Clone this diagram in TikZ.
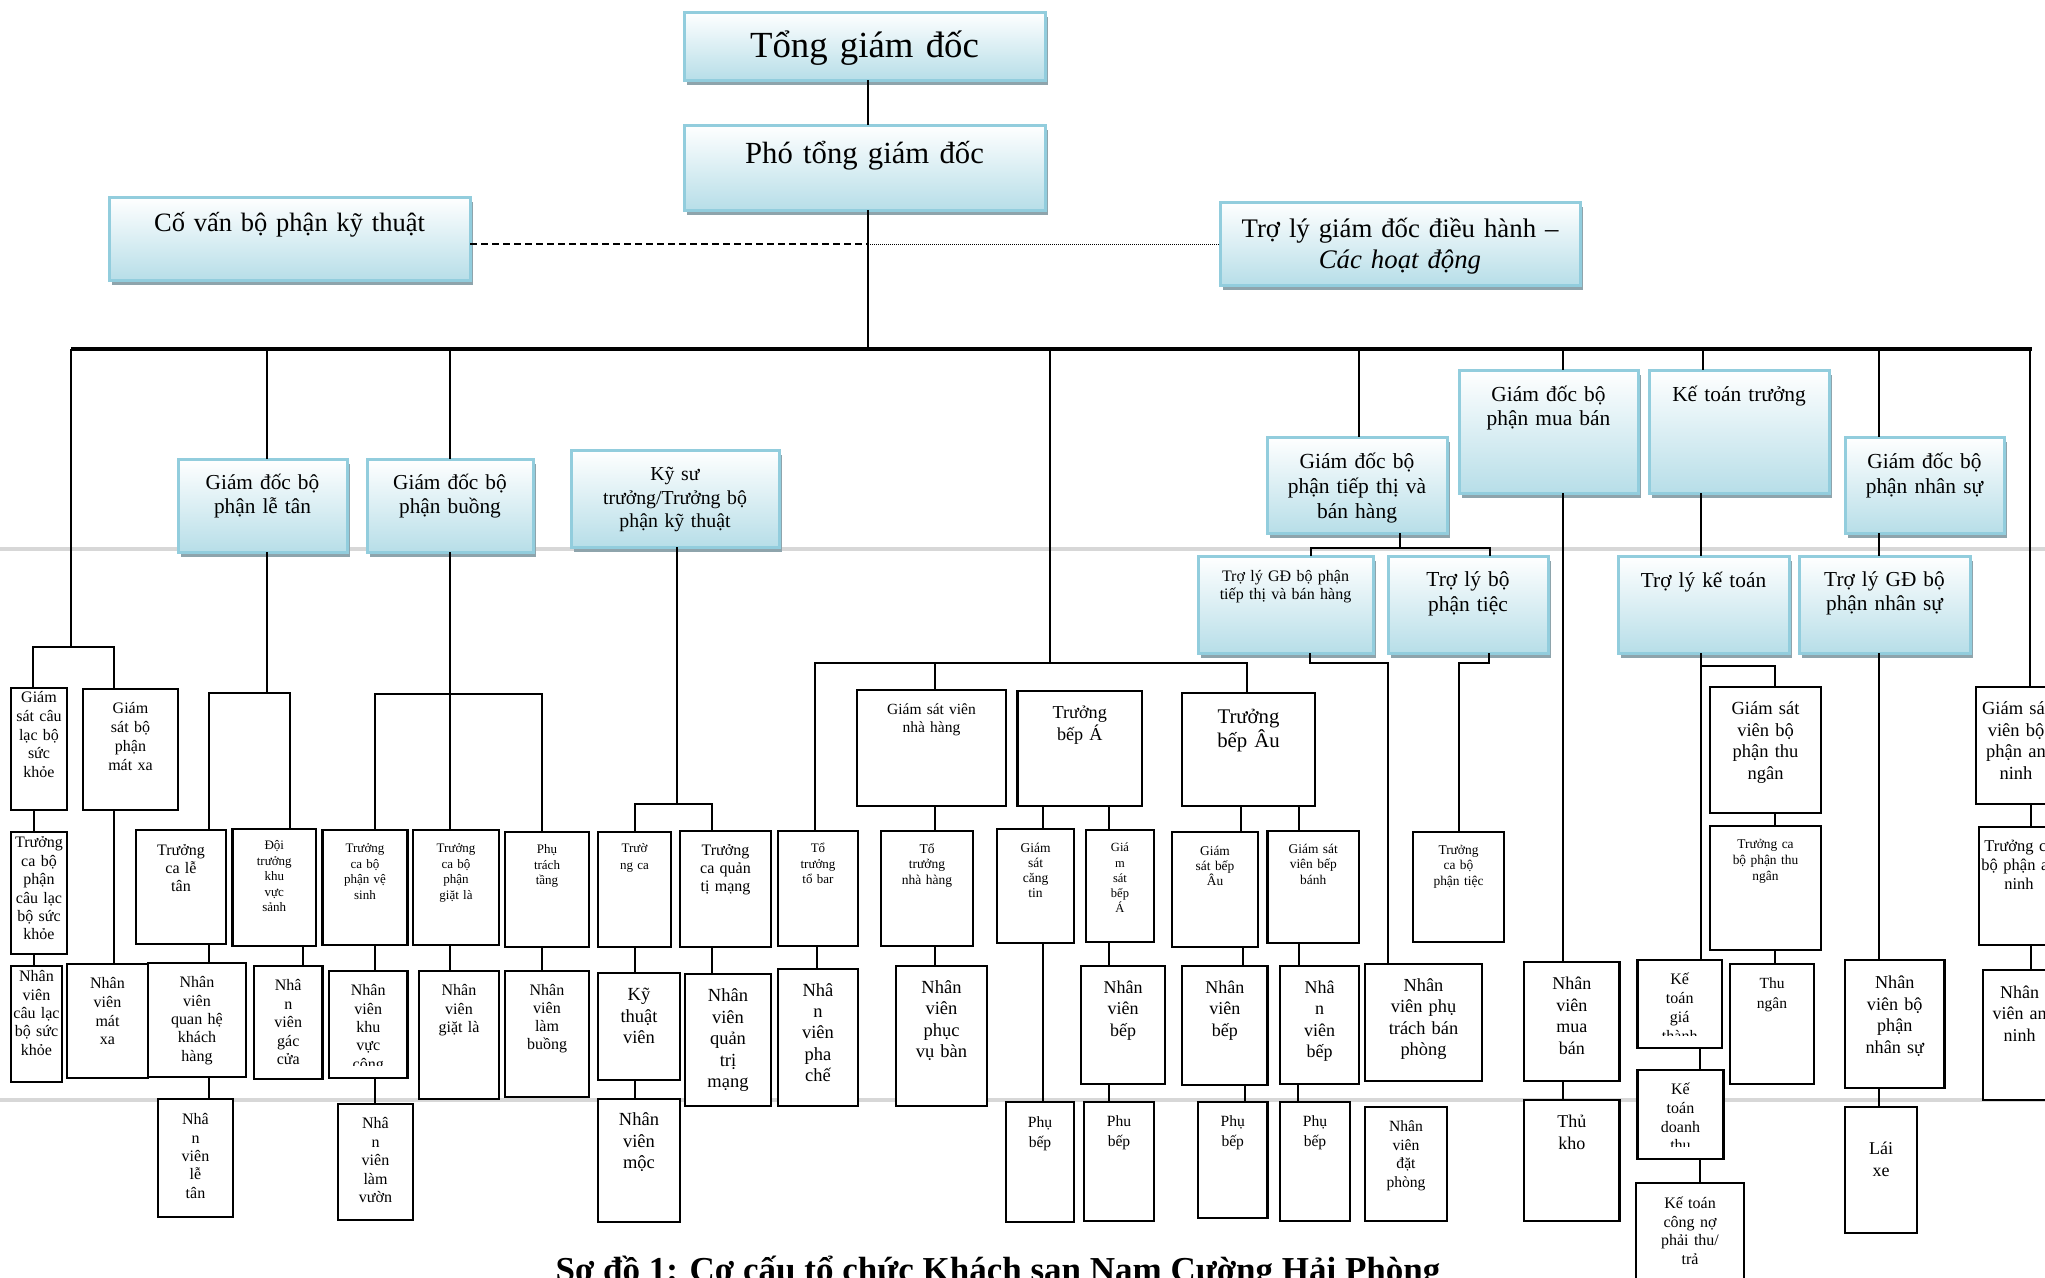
\documentclass[tikz,border=0pt]{standalone}
\usepackage{fontspec}
\setmainfont{Liberation Serif}
\definecolor{bborder}{RGB}{146,205,221}
\definecolor{bfill}{RGB}{183,222,232}
\definecolor{shadowc}{RGB}{142,164,172}
\definecolor{sepgray}{RGB}{215,215,215}
\tikzset{
 wbox/.style={draw=black, line width=2.2pt, fill=white, inner sep=0pt, outer sep=0pt},
 bbox/.style={draw=bborder, line width=3pt, top color=white, bottom color=bfill, inner sep=0pt, outer sep=0pt},
 btxt/.style={anchor=base, align=center, inner sep=0pt},
 conn/.style={draw=black, line width=1.8pt},
 busline/.style={draw=black, line width=4pt},
 sepline/.style={draw=sepgray, line width=4pt},
 advline/.style={draw=black, line width=2pt, dash pattern=on 7pt off 4pt},
 assline/.style={draw=black, line width=1pt, dash pattern=on 1pt off 1pt},
}
% name, x1, y1, x2, y2, font size, skip, first line centre, text
\newcommand\mkwbox[9]{%
 \node[wbox, minimum width={#4-#2}, minimum height={#5-#3}] (#1) at ({(#2+#4)/2},{(#3+#5)/2}) {};
 \node[btxt, text width={#4-#2+24}, font={\fontsize{#6}{#7}\selectfont}] (#1t) at ({(#2+#4)/2},{#8+0.3*#6}) {#9};}
\newcommand\mkwboxc[9]{%
 \node[wbox, minimum width={#4-#2}, minimum height={#5-#3}] (#1) at ({(#2+#4)/2},{(#3+#5)/2}) {};
 \begin{scope}
 \clip (#2,#3) rectangle (#4,{#5-13});
 \node[btxt, text width={#4-#2+24}, font={\fontsize{#6}{#7}\selectfont}] (#1t) at ({(#2+#4)/2},{#8+0.3*#6}) {#9};
 \end{scope}}
\newcommand\mkbbox[9]{%
 \fill[shadowc] ({#2+3},{#3+5}) rectangle ({#4+3},{#5+5});
 \node[bbox, minimum width={#4-#2}, minimum height={#5-#3}] (#1) at ({(#2+#4)/2},{(#3+#5)/2}) {};
 \node[btxt, text width={#4-#2+24}, font={\fontsize{#6}{#7}\selectfont}] (#1t) at ({(#2+#4)/2},{#8+0.3*#6}) {#9};}
\begin{document}
\begin{tikzpicture}[x=1pt,y=-1pt]
\useasboundingbox (0,0) rectangle (2045,1277);
\clip (0,0) rectangle (2045,1277);
\fill[white] (0,0) rectangle (2045,1277);
\draw[sepline] (0,549) -- (2045,549);
\draw[sepline] (0,1100) -- (2045,1100);

% ---------- blue boxes
\mkbbox{tgd}{684}{12}{1045}{80}{36.8}{40}{46}{Tổng giám đốc}
\mkbbox{ptgd}{684}{125}{1045}{210}{30.7}{35}{154}{Phó tổng giám đốc}
\mkbbox{cv}{109}{197}{470}{280}{26.5}{31}{224}{Cố vấn bộ phận kỹ thuật}
\mkbbox{tl}{1220}{202}{1580}{285}{26.8}{31}{229}{Trợ lý giám đốc điều hành –\\\textit{Các hoạt động}}
\mkbbox{letan}{178}{459}{347}{552}{21.3}{24}{483}{Giám đốc bộ\\phận lễ tân}
\mkbbox{buong}{367}{459}{533}{552}{21.3}{24}{483}{Giám đốc bộ\\phận buồng}
\mkbbox{kysu}{571}{450}{779}{547}{19.8}{23.5}{475}{Kỹ sư\\trưởng/Trưởng bộ\\phận kỹ thuật}
\mkbbox{tiepthi}{1267}{437}{1447}{533}{21.5}{25}{462}{Giám đốc bộ\\phận tiếp thị và\\bán hàng}
\mkbbox{muaban}{1459}{370}{1638}{493}{21.4}{24}{395}{Giám đốc bộ\\phận mua bán}
\mkbbox{ketoan}{1649}{370}{1829}{493}{21.4}{24}{395}{Kế toán trưởng}
\mkbbox{nhansu}{1845}{437}{2004}{533}{21.4}{25}{462}{Giám đốc bộ\\phận nhân sự}
\mkbbox{tlgdtt}{1198}{556}{1373}{653}{16}{18}{577}{Trợ lý GĐ bộ phận\\tiếp thị và bán hàng}
\mkbbox{tltiec}{1388}{556}{1548}{653}{21.4}{25}{580}{Trợ lý bộ\\phận tiệc}
\mkbbox{tlkt}{1618}{556}{1789}{653}{21.3}{24}{581}{Trợ lý kế toán}
\mkbbox{tlns}{1799}{556}{1970}{653}{21.3}{24}{580}{Trợ lý GĐ bộ\\phận nhân sự}

% ---------- white boxes: health club / massage
\mkwbox{gsclb}{11}{688}{67}{810}{16}{18.7}{698}{Giám\\sát câu\\lạc bộ\\sức\\khỏe}
\mkwbox{gsmx}{83}{689}{178}{810}{16}{19}{709}{Giám\\sát bộ\\phận\\mát xa}
\mkwbox{tcclb}{11}{832}{67}{954}{16}{18.4}{843}{Trưởng\\ca bộ\\phận\\câu lạc\\bộ sức\\khỏe}
\mkwbox{nvclb}{11}{966}{62}{1082}{16}{18.3}{977}{Nhân\\viên\\câu lạc\\bộ sức\\khỏe}
\mkwbox{nvmx}{67}{964}{148}{1078}{16}{18.7}{984}{Nhân\\viên\\mát\\xa}
% front office
\mkwbox{tclt}{136}{830}{226}{944}{16}{18}{851}{Trưởng\\ca lễ\\tân}
\mkwbox{dtks}{232.5}{829}{316}{946}{13}{15.5}{846}{Đội\\trưởng\\khu\\vực\\sảnh}
\mkwbox{nvqh}{148}{963}{246}{1077}{16}{18.3}{983}{Nhân\\viên\\quan hệ\\khách\\hàng}
\mkwbox{nvgc}{254}{966}{322.5}{1079}{16}{18.5}{986}{Nhâ\\n\\viên\\gác\\cửa}
\mkwbox{nvlt}{158}{1099}{233}{1217}{16}{18.3}{1120}{Nhâ\\n\\viên\\lễ\\tân}
% housekeeping
\mkwbox{tcvs}{322.5}{830}{407.5}{945}{13}{15.4}{849}{Trưởng\\ca bộ\\phận vệ\\sinh}
\mkwbox{tcgl}{413}{830}{499}{945}{13}{15.4}{849}{Trưởng\\ca bộ\\phận\\giặt là}
\mkwbox{ptt}{505}{832}{589}{947}{13}{15.5}{850}{Phụ\\trách\\tầng}
\mkwboxc{nvkvc}{329}{971}{407.5}{1078}{16}{18.3}{991}{Nhân\\viên\\khu\\vực\\công}
\mkwbox{nvgl}{419}{971}{499}{1099}{16}{18.5}{991}{Nhân\\viên\\giặt là}
\mkwbox{nvlb}{505}{971}{589}{1097}{16}{18}{991}{Nhân\\viên\\làm\\buồng}
\mkwbox{nvlv}{338}{1104}{413}{1220}{16}{18.5}{1124}{Nhâ\\n\\viên\\làm\\vườn}
% engineering
\mkwbox{tcktv}{598}{832}{671}{947}{13}{16.7}{849}{Trườ\\ng ca}
\mkwbox{tcqtm}{680}{831}{771}{947}{16}{18}{851}{Trưởng\\ca quản\\tị mạng}
\mkwbox{ktv}{598}{973}{680}{1080}{18.5}{21.5}{995}{Kỹ\\thuật\\viên}
\mkwbox{nvqtm}{685}{974}{771}{1106}{18.5}{21.5}{996}{Nhân\\viên\\quản\\trị\\mạng}
\mkwbox{nvmoc}{598}{1099}{680}{1222}{18.5}{21.5}{1120}{Nhân\\viên\\mộc}
% food and beverage
\mkwbox{gsnh}{857}{690}{1006}{806}{15.5}{18}{710}{Giám sát viên\\nhà hàng}
\mkwbox{tba}{1017.5}{691}{1142}{806}{18.2}{22}{713}{Trưởng\\bếp Á}
\mkwbox{tbau}{1182}{693}{1315}{806}{20.8}{24}{717}{Trưởng\\bếp Âu}
\mkwbox{tttb}{778}{831}{858}{946}{13}{15.5}{849}{Tổ\\trưởng\\tổ bar}
\mkwbox{ttnh}{881}{831}{973}{946}{13.5}{15.5}{849}{Tổ\\trưởng\\nhà hàng}
\mkwbox{nvpc}{778}{969}{858}{1106}{18.5}{21.2}{991}{Nhâ\\n\\viên\\pha\\chế}
\mkwbox{nvpvb}{896}{966}{987}{1106}{18.5}{21.3}{988}{Nhân\\viên\\phục\\vụ bàn}
\mkwbox{gsct}{997}{829}{1074}{943}{13.5}{15}{848}{Giám\\sát\\căng\\tin}
\mkwbox{gsba}{1086}{830}{1154}{942}{12.5}{15.3}{848}{Giá\\m\\sát\\bếp\\Á}
\mkwbox{gsbau}{1172}{832}{1258}{947}{13.4}{15}{851}{Giám\\sát bếp\\Âu}
\mkwbox{gsbb}{1267.5}{831}{1359}{943}{13.4}{15.5}{849}{Giám sát\\viên bếp\\bánh}
\mkwbox{pb1}{1006}{1102}{1074}{1222}{15.6}{19.5}{1123}{Phụ\\bếp}
\mkwbox{nvba}{1081}{966}{1165}{1084}{18}{21.3}{988}{Nhân\\viên\\bếp}
\mkwbox{pb2}{1084}{1102}{1154}{1221}{15.6}{19.5}{1122}{Phu\\bếp}
\mkwbox{nvbau}{1182}{966}{1267.5}{1085}{18}{21.3}{988}{Nhân\\viên\\bếp}
\mkwbox{nvbb}{1280}{966}{1359}{1084}{18}{21.3}{988}{Nhâ\\n\\viên\\bếp}
\mkwbox{pb3}{1198}{1102}{1267.5}{1218}{15.6}{19.5}{1122}{Phụ\\bếp}
\mkwbox{pb4}{1280}{1102}{1350}{1221}{15.6}{19.5}{1122}{Phụ\\bếp}
% sales
\mkwbox{nvpbp}{1365}{964}{1482}{1081}{18.4}{21.3}{986}{Nhân\\viên phụ\\trách bán\\phòng}
\mkwbox{nvdp}{1365}{1107}{1447}{1221}{15.6}{18.5}{1127}{Nhân\\viên\\đặt\\phòng}
\mkwbox{tctiec}{1413}{832}{1504}{942}{13.4}{15.5}{850}{Trưởng\\ca bộ\\phận tiệc}
% purchasing
\mkwbox{nvmb}{1524}{962}{1619.5}{1081}{18}{21.6}{984}{Nhân\\viên\\mua\\bán}
\mkwbox{thukho}{1524}{1100}{1619.5}{1221}{18}{22}{1122}{Thủ\\kho}
% accounting
\mkwbox{gstn}{1710}{687}{1821}{813}{18.5}{21.6}{709}{Giám sát\\viên bộ\\phận thu\\ngân}
\mkwbox{tctn}{1710}{826}{1821}{950}{13.4}{16}{844}{Trưởng ca\\bộ phận thu\\ngân}
\mkwbox{thungan}{1730}{964}{1814}{1084}{15.5}{20}{984}{Thu\\ngân}
\mkwboxc{ktgt}{1637.5}{960}{1722}{1048}{16}{19}{980}{Kế\\toán\\giá\\thành}
\mkwboxc{ktdt}{1637.5}{1070}{1723.5}{1159}{16}{18.7}{1090}{Kế\\toán\\doanh\\thu}
\mkwbox{ktcn}{1636}{1183}{1744}{1300}{16}{18.5}{1204}{Kế toán\\công nợ\\phải thu/\\trả}
% HR
\mkwbox{nvns}{1845}{960}{1944.5}{1088}{18.2}{21.6}{983}{Nhân\\viên bộ\\phận\\nhân sự}
\mkwbox{laixe}{1845}{1107}{1917}{1233}{18}{22}{1149}{Lái\\xe}
% security
\mkwbox{gsan}{1976}{687}{2056}{804}{18.5}{21.6}{709}{Giám sát\\viên bộ\\phận an\\ninh}
\mkwbox{tcan}{1979}{827}{2059}{945}{16.5}{18.7}{847}{Trưởng ca\\bộ phận an\\ninh}
\mkwbox{nvan}{1983}{970}{2056}{1100}{18}{21.5}{993}{Nhân\\viên an\\ninh}

% ---------- connectors
\coordinate (busL) at (71,349);
\coordinate (busR) at (2032,349);
\coordinate (mid) at (868,244);
\draw[busline] (busL) -- (busR);
\draw[conn] (tgd.south -| mid) -- (ptgd.north -| mid);
\draw[conn] (ptgd.south -| mid) -- (busL -| mid);
\draw[advline] (cv.east |- mid) -- (mid);
\draw[assline] (mid) -- (tl.west |- mid);

% health club
\coordinate (r1) at (71,647);
\draw[conn] (busL) -- (r1);
\draw[conn] (gsclb.north -| 33,0) |- (r1) -| (gsmx.north -| 114,0);
\draw[conn] (gsclb.south -| 34,0) -- (tcclb.north -| 34,0);
\draw[conn] (tcclb.south -| 34,0) -- (nvclb.north -| 34,0);
\draw[conn] (gsmx.south -| 114,0) -- (nvmx.north -| 114,0);
% front office
\coordinate (r2) at (267,693);
\draw[conn] (busL -| r2) -- (letan.north -| r2);
\draw[conn] (letan.south -| r2) -- (r2);
\draw[conn] (tclt.north -| 209,0) |- (r2) -| (dtks.north -| 290,0);
\draw[conn] (tclt.south -| 209,0) -- (nvqh.north -| 209,0);
\draw[conn] (dtks.south -| 303,0) -- (nvgc.north -| 303,0);
\draw[conn] (nvqh.south -| 209,0) -- (nvlt.north -| 209,0);
% housekeeping
\coordinate (r3) at (450,694);
\draw[conn] (busL -| r3) -- (buong.north -| r3);
\draw[conn] (buong.south -| r3) -- (r3);
\draw[conn] (tcvs.north -| 375,0) |- (r3) -| (ptt.north -| 542,0);
\draw[conn] (r3) -- (tcgl.north -| r3);
\draw[conn] (tcvs.south -| 375,0) -- (nvkvc.north -| 375,0);
\draw[conn] (tcgl.south -| r3) -- (nvgl.north -| r3);
\draw[conn] (ptt.south -| 542,0) -- (nvlb.north -| 542,0);
\draw[conn] (nvkvc.south -| 375,0) -- (nvlv.north -| 375,0);
% engineering
\coordinate (r4) at (677,804);
\draw[conn] (kysu.south -| r4) -- (r4);
\draw[conn] (tcktv.north -| 635,0) |- (r4) -| (tcqtm.north -| 712,0);
\draw[conn] (tcktv.south -| 635,0) -- (ktv.north -| 635,0);
\draw[conn] (tcqtm.south -| 712,0) -- (nvqtm.north -| 712,0);
\draw[conn] (ktv.south -| 635,0) -- (nvmoc.north -| 635,0);
% food and beverage
\coordinate (r5) at (1050,663);
\draw[conn] (busL -| r5) -- (r5);
\draw[conn] (tttb.north -| 815,0) |- (r5) -| (tbau.north -| 1247,0);
\draw[conn] (r5 -| 935,0) -- (gsnh.north -| 935,0);
\draw[conn] (gsnh.south -| 935,0) -- (ttnh.north -| 935,0);
\draw[conn] (tttb.south -| 817,0) -- (nvpc.north -| 817,0);
\draw[conn] (ttnh.south -| 935,0) -- (nvpvb.north -| 935,0);
\draw[conn] (tba.south -| 1043,0) -- (gsct.north -| 1043,0);
\draw[conn] (tba.south -| 1109,0) -- (gsba.north -| 1109,0);
\draw[conn] (gsct.south -| 1043,0) -- (pb1.north -| 1043,0);
\draw[conn] (gsba.south -| 1109,0) -- (nvba.north -| 1109,0);
\draw[conn] (nvba.south -| 1109,0) -- (pb2.north -| 1109,0);
\draw[conn] (tbau.south -| 1241,0) -- (gsbau.north -| 1241,0);
\draw[conn] (tbau.south -| 1299,0) -- (gsbb.north -| 1299,0);
\draw[conn] (gsbau.south -| 1243,0) -- (nvbau.north -| 1243,0);
\draw[conn] (gsbb.south -| 1299,0) -- (nvbb.north -| 1299,0);
\draw[conn] (nvbau.south -| 1245,0) -- (pb3.north -| 1245,0);
\draw[conn] (nvbb.south -| 1298,0) -- (pb4.north -| 1298,0);
% sales and marketing
\draw[conn] (busL -| 1359,0) -- (tiepthi.north -| 1359,0);
\coordinate (r6) at (1400,548);
\draw[conn] (tiepthi.south -| r6) -- (r6);
\draw[conn] (tlgdtt.north -| 1311,0) |- (r6) -| (tltiec.north -| 1490,0);
\coordinate (r7) at (1388,663);
\draw[conn] (tlgdtt.south -| 1310,0) |- (r7) -- (nvpbp.north -| r7);
\coordinate (r8) at (1459,663);
\draw[conn] (tltiec.south -| 1489,0) |- (r8) -- (tctiec.north -| r8);
% purchasing
\draw[conn] (busL -| 1563,0) -- (muaban.north -| 1563,0);
\draw[conn] (muaban.south -| 1563,0) -- (nvmb.north -| 1563,0);
\draw[conn] (nvmb.south -| 1563,0) -- (thukho.north -| 1563,0);
% accounting
\draw[conn] (busL -| 1703,0) -- (ketoan.north -| 1703,0);
\draw[conn] (ketoan.south -| 1701,0) -- (tlkt.north -| 1701,0);
\draw[conn] (tlkt.south -| 1701,0) -- (ktgt.north -| 1701,0);
\coordinate (r9) at (1701,666);
\draw[conn] (r9) -| (gstn.north -| 1775,0);
\draw[conn] (gstn.south -| 1775,0) -- (tctn.north -| 1775,0);
\draw[conn] (tctn.south -| 1775,0) -- (thungan.north -| 1775,0);
\draw[conn] (ktgt.south -| 1700,0) -- (ktdt.north -| 1700,0);
\draw[conn] (ktdt.south -| 1700,0) -- (ktcn.north -| 1700,0);
% HR
\draw[conn] (busL -| 1879,0) -- (nhansu.north -| 1879,0);
\draw[conn] (nhansu.south -| 1879,0) -- (tlns.north -| 1879,0);
\draw[conn] (tlns.south -| 1879,0) -- (nvns.north -| 1879,0);
\draw[conn] (nvns.south -| 1879,0) -- (laixe.north -| 1879,0);
% security
\draw[conn] (busR -| 2030,0) -- (gsan.north -| 2030,0);
\draw[conn] (gsan.south -| 2031,0) -- (tcan.north -| 2031,0);
\draw[conn] (tcan.south -| 2031,0) -- (nvan.north -| 2031,0);

% caption
\node[anchor=base, inner sep=0pt, font={\bfseries\fontsize{35}{40}\selectfont}] (cap) at (998,1281) {Sơ đồ 1: Cơ cấu tổ chức Khách sạn Nam Cường Hải Phòng};
\end{tikzpicture}
\end{document}
